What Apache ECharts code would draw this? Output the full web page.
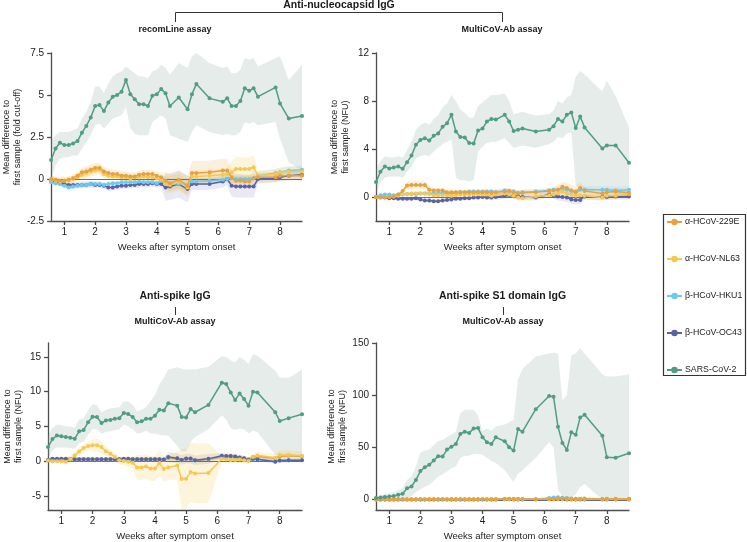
<!DOCTYPE html>
<html>
<head>
<meta charset="utf-8">
<script src="https://cdn.jsdelivr.net/npm/echarts@6.0.0/dist/echarts.min.js"></script>
<style>
html,body{margin:0;padding:0;background:#ffffff;}
#chart{width:747px;height:542px;}
</style>
</head>
<body>
<div id="chart"></div>
<script>
// ---------- shared x positions (days after symptom onset) ----------
const days = [4,5,6,7,8,9,10,11,12,13,14,15,16,17,18,19,20,21,22,23,24,25,26,27,28,29,30,31,33,34,35,36,37,40,43,44,45,46,47,48,49,50,51,55,56,58,61];
const weekTicks = [1,2,3,4,5,6,7,8];
const NAMES = ['α-HCoV-229E','α-HCoV-NL63','β-HCoV-HKU1','β-HCoV-OC43','SARS-CoV-2'];

// ---------- Panel A: anti-nucleocapsid, recomLine (fold cut-off) ----------
const tl_yticks = [-2.5,0,2.5,5,7.5];
const tl_sars    = [1.13,1.82,2.16,2.02,2.02,2.12,2.26,2.76,3.16,3.66,4.35,4.4,4.05,4.55,4.9,5.0,5.2,5.9,5.05,4.75,4.45,4.45,4.35,4.95,5.05,5.35,5.1,4.35,4.85,null,4.15,5.05,5.65,4.8,4.6,4.8,4.35,4.35,4.65,5.4,5.25,5.4,4.9,5.45,4.5,3.6,3.75];
const tl_sars_lo = [0.0,0.8,1.2,1.3,1.3,1.4,1.4,1.8,2.2,2.6,3.2,3.3,3.0,3.3,3.6,3.7,3.8,4.3,3.0,2.7,2.6,2.6,2.6,3.4,3.6,3.8,3.6,2.6,2.4,null,2.2,2.8,3.2,2.8,2.6,2.7,2.6,2.6,2.8,3.4,3.3,3.4,3.2,3.4,2.4,1.0,0.5];
const tl_sars_hi = [2.3,2.6,2.8,2.8,2.8,2.9,3.0,3.6,4.0,4.6,5.5,5.5,5.1,5.7,6.1,6.3,6.4,6.7,6.5,6.3,6.1,6.1,6.0,6.4,6.5,6.8,6.6,6.2,6.9,null,6.6,7.3,7.5,6.9,6.6,6.7,6.3,6.3,6.5,7.2,7.1,7.2,6.7,7.2,7.3,5.9,6.8];
const tl_229e = [0.0,-0.05,-0.1,-0.1,-0.05,0.05,0.2,0.4,0.45,0.55,0.65,0.65,0.45,0.35,0.3,0.3,0.2,0.2,0.15,0.15,0.25,0.3,0.3,0.3,0.2,0.1,-0.1,-0.25,-0.05,null,-0.4,0.35,0.35,0.4,0.5,0.5,0.1,-0.1,-0.1,-0.15,-0.15,0.05,0.1,0.1,0.2,0.2,0.2];
const tl_nl63 = [-0.05,-0.1,-0.15,-0.1,-0.05,0.0,0.1,0.25,0.35,0.45,0.5,0.55,0.3,0.2,0.15,0.15,0.1,0.1,0.05,0.1,0.1,0.15,0.1,0.1,0.05,-0.05,-0.3,-0.35,-0.2,null,-0.5,0.15,0.15,0.2,0.25,0.3,0.4,0.6,0.6,0.6,0.6,0.7,0.2,0.3,0.4,0.45,0.45];
const tl_hku1 = [-0.2,-0.25,-0.3,-0.4,-0.5,-0.45,-0.4,-0.35,-0.35,-0.3,-0.3,-0.3,-0.35,-0.3,-0.25,-0.25,-0.2,-0.2,-0.2,-0.2,-0.15,-0.2,-0.2,-0.2,-0.25,-0.1,-0.2,-0.3,-0.3,null,-0.35,-0.15,-0.15,-0.1,-0.05,0.0,0.05,0.0,0.0,0.0,0.0,0.05,0.2,0.35,0.4,0.5,0.55];
const tl_oc43 = [-0.1,-0.15,-0.2,-0.3,-0.35,-0.35,-0.35,-0.35,-0.35,-0.3,-0.35,-0.35,-0.4,-0.5,-0.5,-0.45,-0.4,-0.4,-0.35,-0.35,-0.3,-0.3,-0.3,-0.25,-0.3,-0.3,-0.5,-0.45,-0.3,null,-0.6,-0.3,-0.3,-0.3,-0.15,0.0,-0.4,-0.45,-0.45,-0.45,-0.45,-0.45,0.0,0.05,0.1,0.2,0.25];
const tl_229e_ci = [0.2,0.2,0.2,0.2,0.2,0.2,0.2,0.3,0.3,0.3,0.3,0.3,0.3,0.25,0.25,0.25,0.25,0.25,0.25,0.25,0.25,0.25,0.25,0.25,0.25,0.25,0.5,0.5,0.5,0.5,0.6,0.7,0.7,0.7,0.7,0.7,0.4,0.4,0.4,0.4,0.4,0.4,0.3,0.3,0.3,0.3,0.3];
const tl_nl63_ci = [0.2,0.2,0.2,0.2,0.2,0.2,0.2,0.3,0.3,0.3,0.3,0.3,0.3,0.2,0.2,0.2,0.2,0.2,0.2,0.2,0.2,0.2,0.2,0.2,0.2,0.2,0.5,0.5,0.5,0.5,0.5,0.35,0.35,0.35,0.35,0.35,0.7,0.7,0.7,0.7,0.7,0.7,0.3,0.3,0.3,0.3,0.3];
const tl_hku1_ci = [0.15,0.15,0.15,0.15,0.15,0.15,0.15,0.15,0.15,0.15,0.15,0.15,0.15,0.15,0.15,0.15,0.15,0.15,0.15,0.15,0.15,0.15,0.15,0.15,0.15,0.15,0.3,0.3,0.3,0.3,0.3,0.2,0.2,0.2,0.2,0.2,0.25,0.25,0.25,0.25,0.25,0.25,0.25,0.25,0.25,0.25,0.25];
const tl_oc43_ci = [0.2,0.2,0.2,0.2,0.2,0.2,0.2,0.2,0.2,0.2,0.2,0.2,0.2,0.2,0.2,0.2,0.2,0.2,0.2,0.2,0.2,0.2,0.2,0.2,0.2,0.2,0.8,0.8,0.8,0.8,0.8,0.35,0.35,0.35,0.35,0.35,0.65,0.65,0.65,0.65,0.65,0.65,0.25,0.25,0.25,0.25,0.25];

// ---------- Panel B: anti-nucleocapsid, MultiCoV-Ab (NFU) ----------
const tr_yticks = [0,4,8,12];
const tr_sars    = [1.24,2.1,2.55,2.37,2.45,2.55,2.35,2.9,3.45,4.35,4.75,4.9,4.7,5.1,5.3,5.85,6.15,6.85,5.45,5.0,4.95,4.5,4.45,5.55,5.7,6.3,6.5,6.45,6.85,6.3,5.5,5.6,5.7,5.45,5.6,5.9,6.5,6.3,6.85,7.05,5.75,6.7,5.8,4.05,4.3,4.3,2.85];
const tr_sars_lo = [0.2,1.2,1.6,1.7,1.7,1.7,1.6,2.1,2.5,3.2,3.4,3.5,3.4,3.8,4.1,4.4,4.6,4.8,1.6,1.4,1.4,1.3,1.4,3.8,4.2,4.5,4.6,4.6,4.9,4.5,4.1,4.2,4.3,4.1,4.4,4.6,5.0,4.9,5.3,5.4,1.0,0.6,0.5,0.4,0.4,0.3,0.1];
const tr_sars_hi = [2.3,3.0,3.4,3.3,3.3,3.4,3.3,3.9,4.6,5.6,6.0,6.2,6.0,6.5,6.8,7.5,7.8,8.5,8.0,7.3,7.0,6.6,6.6,7.6,7.9,8.2,8.5,8.5,8.6,8.0,6.9,7.0,7.1,6.8,6.9,7.2,8.0,7.8,8.3,8.5,10.0,10.5,10.2,8.8,9.7,8.4,5.8];
const tr_229e = [0.0,0.0,0.0,0.0,0.05,0.2,0.5,0.95,1.0,1.0,1.0,1.0,0.6,0.55,0.55,0.55,0.4,0.4,0.4,0.4,0.4,0.4,0.4,0.4,0.4,0.4,0.35,0.4,0.45,0.5,0.4,0.3,0.35,0.4,0.5,0.55,0.6,0.85,0.75,0.55,0.45,0.75,0.5,0.3,0.4,0.45,0.35];
const tr_nl63 = [0.0,0.0,0.0,0.0,0.05,0.1,0.2,0.25,0.3,0.3,0.3,0.3,0.25,0.15,0.15,0.15,0.15,0.1,0.15,0.2,0.2,0.2,0.2,0.25,0.2,0.2,0.1,0.2,0.3,0.2,0.1,-0.05,-0.1,0.05,0.15,0.2,0.3,0.45,0.3,0.2,0.1,0.15,0.1,-0.05,0.1,0.1,0.25];
const tr_hku1 = [0.0,0.15,0.2,0.2,0.15,0.2,0.2,0.25,0.25,0.25,0.3,0.3,0.3,0.3,0.3,0.35,0.3,0.3,0.35,0.4,0.4,0.45,0.45,0.45,0.45,0.45,0.45,0.4,0.55,0.5,0.45,0.35,0.4,0.45,0.55,0.6,0.6,0.65,0.6,0.5,0.35,0.6,0.6,0.6,0.6,0.55,0.6];
const tr_oc43 = [0.0,-0.05,-0.05,-0.1,-0.1,-0.15,-0.15,-0.15,-0.15,-0.1,-0.2,-0.3,-0.3,-0.35,-0.35,-0.3,-0.25,-0.2,-0.15,-0.15,-0.1,-0.1,-0.05,-0.05,0.0,-0.05,-0.05,0.0,0.1,0.15,0.1,0.05,0.0,-0.05,0.2,0.1,0.05,0.0,-0.05,-0.2,-0.25,-0.25,0.05,0.0,0.0,0.05,0.05];
const tr_229e_ci = [0.1,0.1,0.1,0.1,0.1,0.1,0.1,0.35,0.35,0.35,0.35,0.35,0.35,0.2,0.2,0.2,0.2,0.2,0.2,0.2,0.2,0.2,0.2,0.2,0.2,0.2,0.25,0.25,0.25,0.25,0.25,0.25,0.25,0.25,0.25,0.25,0.45,0.45,0.45,0.45,0.45,0.45,0.3,0.3,0.3,0.3,0.3];
const tr_nl63_ci = [0.1,0.1,0.1,0.1,0.1,0.1,0.1,0.15,0.15,0.15,0.15,0.15,0.15,0.15,0.15,0.15,0.15,0.15,0.15,0.15,0.15,0.15,0.15,0.15,0.15,0.15,0.2,0.2,0.2,0.2,0.2,0.2,0.2,0.2,0.2,0.2,0.3,0.3,0.3,0.3,0.3,0.3,0.3,0.3,0.3,0.3,0.3];
const tr_hku1_ci = [0.1,0.1,0.1,0.1,0.1,0.1,0.1,0.15,0.15,0.15,0.15,0.15,0.15,0.15,0.15,0.15,0.15,0.15,0.15,0.15,0.15,0.15,0.15,0.15,0.15,0.15,0.2,0.2,0.2,0.2,0.2,0.2,0.2,0.2,0.2,0.2,0.3,0.3,0.3,0.3,0.3,0.3,0.3,0.3,0.3,0.3,0.3];
const tr_oc43_ci = [0.1,0.1,0.1,0.1,0.1,0.1,0.1,0.15,0.15,0.15,0.15,0.15,0.15,0.15,0.15,0.15,0.15,0.15,0.15,0.15,0.15,0.15,0.15,0.15,0.15,0.15,0.25,0.25,0.25,0.25,0.25,0.25,0.25,0.25,0.25,0.25,0.35,0.35,0.35,0.35,0.35,0.35,0.25,0.25,0.25,0.25,0.25];

// ---------- Panel C: anti-spike IgG, MultiCoV-Ab (NFU) ----------
const bl_yticks = [-5,0,5,10,15];
const bl_sars    = [2.05,3.2,3.7,3.6,3.5,3.4,3.25,4.3,4.5,5.6,6.4,6.35,5.5,5.85,5.95,6.1,6.2,6.95,6.8,6.35,5.6,5.75,6.1,6.1,6.55,7.4,7.3,8.35,8.0,6.35,6.3,7.5,7.05,8.1,11.3,11.1,9.9,8.8,9.75,8.95,8.0,10.0,9.9,7.05,5.8,6.2,6.75];
const bl_sars_lo = [0.5,1.6,2.0,2.0,2.0,1.9,1.8,2.6,2.8,3.8,4.6,4.6,4.0,4.2,4.3,4.5,4.6,5.3,5.0,4.6,4.0,4.1,4.4,4.0,4.0,3.8,3.7,3.7,2.2,1.4,1.4,2.8,3.5,4.6,6.6,6.0,4.8,4.5,4.7,4.6,4.0,4.4,4.2,0.9,0.8,0.9,0.9];
const bl_sars_hi = [3.6,4.8,5.3,5.2,5.0,5.0,4.8,6.0,6.2,7.3,8.2,8.1,7.0,7.4,7.6,7.7,7.8,8.6,8.6,8.1,7.2,7.4,7.8,8.6,9.5,11.0,12.0,13.2,13.5,13.3,13.2,13.2,13.2,13.6,15.1,15.0,14.5,14.2,15.0,14.6,14.0,15.4,15.2,13.0,12.0,12.0,13.2];
const bl_229e = [0.2,0.3,0.3,0.3,0.3,0.3,0.3,0.3,0.3,0.3,0.3,0.3,0.3,0.3,0.3,0.3,0.3,0.3,0.3,0.3,0.3,0.3,0.3,0.3,0.3,0.3,0.25,0.5,0.4,0.2,0.35,0.35,0.15,0.3,0.7,0.7,0.7,0.65,0.5,0.4,0.3,0.6,0.7,0.4,0.7,0.8,0.7];
const bl_nl63 = [0.1,0.0,0.0,0.0,-0.05,0.3,0.85,1.4,1.9,2.2,2.3,2.3,2.05,1.45,1.1,0.6,0.15,0.05,-0.05,-0.2,-0.9,-0.9,-0.75,-1.05,-1.05,-0.25,-1.1,-0.9,-0.6,-2.55,-2.5,-1.55,-1.75,-1.7,0.35,0.25,0.2,0.2,0.25,0.15,0.05,0.6,0.85,0.5,0.9,0.95,0.8];
const bl_hku1 = [0.15,0.25,0.25,0.25,0.25,0.25,0.25,0.25,0.25,0.25,0.25,0.25,0.25,0.25,0.25,0.25,0.25,0.25,0.25,0.25,0.25,0.25,0.25,0.25,0.25,0.25,0.2,0.45,0.35,0.15,0.3,0.3,0.1,0.3,0.6,0.6,0.6,0.55,0.45,0.35,0.2,0.3,0.3,0.0,0.1,0.15,0.15];
const bl_oc43 = [0.2,0.35,0.35,0.35,0.35,0.3,0.3,0.3,0.3,0.3,0.3,0.3,0.3,0.3,0.3,0.3,0.3,0.35,0.35,0.3,0.3,0.3,0.3,0.3,0.3,0.3,0.25,0.6,0.45,0.2,0.4,0.4,0.15,0.35,0.8,0.75,0.75,0.7,0.55,0.45,0.2,0.35,0.3,-0.05,0.1,0.15,0.15];
const bl_229e_ci = 0.25;
const bl_nl63_ci = [0.2,0.2,0.2,0.2,0.2,0.6,0.6,0.6,0.6,0.6,0.9,0.9,0.9,0.6,0.6,0.6,0.6,0.6,0.8,0.8,1.8,1.8,1.8,1.8,1.8,1.8,1.8,1.8,2.0,4.3,4.3,4.3,4.3,4.3,0.5,0.5,0.5,0.5,0.5,0.5,0.5,0.5,0.5,0.6,0.6,0.6,0.6];
const bl_hku1_ci = 0.2;
const bl_oc43_ci = [0.25,0.25,0.25,0.25,0.25,0.25,0.25,0.25,0.25,0.25,0.25,0.25,0.25,0.25,0.25,0.25,0.25,0.25,0.25,0.25,0.25,0.25,0.25,0.25,0.25,0.25,0.25,0.7,0.7,0.7,0.7,0.7,0.7,0.7,0.4,0.4,0.4,0.4,0.4,0.4,0.3,0.3,0.3,0.3,0.3,0.3,0.3];

// ---------- Panel D: anti-spike S1 domain IgG, MultiCoV-Ab (NFU) ----------
const br_yticks = [0,50,100,150];
const br_sars    = [1.6,1.9,2.5,3.0,3.3,4.5,5.5,10.8,12.5,18.8,27.3,31,33.3,37.4,41.6,41.2,47.9,50.7,53.3,62.8,65,63.7,68.2,68.5,59.6,54.9,53.3,59.6,55.9,50.1,46.9,67.6,65,86.6,99.2,98.6,69.7,54.2,47.6,64.4,62.1,78.7,81.2,61.2,40.6,40,44.4];
const br_sars_lo = [0,0,0,0,0,0,0,2,3,7,10,12,14,18,22,24,27,30,32,40,42,42,44,44,43,40,37,35,28,22,17,25,28,40,55,50,10,3,0,2,5,12,15,0,0,0,0];
const br_sars_hi = [3,4,5,6,7,9,11,19,22,32,45,47,48,52,56,57,60,62,65,83,86,86,86,80,66,68,66,70,72,74,76,115,125,137,140,141,140,95,100,138,140,145,140,120,118,118,120];
const br_229e = [0,0.1,0.1,0.1,0.1,0.2,0.2,0.2,0.2,0.2,0.3,0.3,0.3,0.3,0.3,0.3,0.3,0.3,0.3,0.3,0.3,0.3,0.3,0.3,0.3,0.3,0.3,0.4,0.8,0.8,0.7,0.7,0.6,0.3,0.6,0.8,0.9,0.9,0.8,0.7,0.7,0.8,0.9,0.6,0.7,0.8,0.7];
const br_nl63 = [0,0.05,0.05,0.1,0.1,0.1,0.1,0.1,0.1,0.1,0.2,0.2,0.2,0.2,0.2,0.2,0.2,0.2,0.2,0.2,0.2,0.2,0.2,0.2,0.2,0.2,0.2,0.3,0.5,0.5,0.4,0.4,0.3,0.2,0.4,0.5,0.6,0.6,0.5,0.4,0.4,0.5,0.6,0.4,0.5,0.5,0.4];
const br_hku1 = [0,0.1,0.1,0.1,0.1,0.1,0.1,0.1,0.1,0.1,0.1,0.1,0.1,0.1,0.1,0.1,0.1,0.1,0.1,0.1,0.1,0.1,0.1,0.1,0.1,0.1,0.1,0.2,0.3,0.3,0.2,0.2,0.2,0.4,1.5,2.0,2.2,1.8,1.4,1.0,0.8,0.7,0.6,0.5,0.5,0.4,0.4];
const br_oc43 = [0,0,0,0.05,0.05,0.05,0.05,0.05,0.05,0.05,0.05,0.05,0.05,0.05,0.05,0.05,0.05,0.05,0.05,0.05,0.05,0.05,0.05,0.05,0.05,0.05,0.05,0.1,0.2,0.2,0.1,0.1,0.1,0.1,0.2,0.2,0.2,0.2,0.1,0.1,0.1,0.1,0.1,0.1,0.1,0.1,0.1];
const br_229e_ci = 0.6;
const br_nl63_ci = 0.5;
const br_hku1_ci = [0.5,0.5,0.5,0.5,0.5,0.5,0.5,0.5,0.5,0.5,0.5,0.5,0.5,0.5,0.5,0.5,0.5,0.5,0.5,0.5,0.5,0.5,0.5,0.5,0.5,0.5,0.5,0.5,0.5,0.5,0.5,0.5,0.5,0.5,1.5,1.5,1.5,1.5,1.5,1.5,1.5,0.6,0.6,0.6,0.6,0.6,0.6];
const br_oc43_ci = 0.4;

// ---------- styling ----------
const FONT = '"Liberation Sans", Arial, Helvetica, sans-serif';
const COLORS = {'α-HCoV-229E':'#e5a23e','α-HCoV-NL63':'#f6c851','β-HCoV-HKU1':'#6cc9ef','β-HCoV-OC43':'#5a62a6','SARS-CoV-2':'#4f9d84'};
const BANDS = {'α-HCoV-229E':'rgba(229,162,62,0.17)','α-HCoV-NL63':'rgba(246,200,81,0.2)','β-HCoV-HKU1':'rgba(108,201,239,0.15)','β-HCoV-OC43':'rgba(90,98,166,0.14)','SARS-CoV-2':'rgba(135,170,155,0.22)'};
const XMIN = 4/7, XMAX = 61/7;
const AXC = '#4d4d4d';

const panels = [
  {grid:{left:49,top:53,width:253,height:168}, ymin:-2.5, ymax:7.5, yticks:tl_yticks, nameGap:25,
   yName:'Mean difference to\nfirst sample (fold cut-off)',
   order:['β-HCoV-OC43','β-HCoV-HKU1','α-HCoV-NL63','α-HCoV-229E','SARS-CoV-2'],
   mean:{'α-HCoV-229E':tl_229e,'α-HCoV-NL63':tl_nl63,'β-HCoV-HKU1':tl_hku1,'β-HCoV-OC43':tl_oc43,'SARS-CoV-2':tl_sars},
   ci:{'α-HCoV-229E':tl_229e_ci,'α-HCoV-NL63':tl_nl63_ci,'β-HCoV-HKU1':tl_hku1_ci,'β-HCoV-OC43':tl_oc43_ci},
   lo:tl_sars_lo, hi:tl_sars_hi},
  {grid:{left:376,top:53,width:253,height:168}, ymin:-2, ymax:12, yticks:tr_yticks, nameGap:25,
   yName:'Mean difference to\nfirst sample (NFU)',
   order:['β-HCoV-OC43','β-HCoV-HKU1','α-HCoV-NL63','α-HCoV-229E','SARS-CoV-2'],
   mean:{'α-HCoV-229E':tr_229e,'α-HCoV-NL63':tr_nl63,'β-HCoV-HKU1':tr_hku1,'β-HCoV-OC43':tr_oc43,'SARS-CoV-2':tr_sars},
   ci:{'α-HCoV-229E':tr_229e_ci,'α-HCoV-NL63':tr_nl63_ci,'β-HCoV-HKU1':tr_hku1_ci,'β-HCoV-OC43':tr_oc43_ci},
   lo:tr_sars_lo, hi:tr_sars_hi},
  {grid:{left:48,top:343,width:254,height:169}, ymin:-7, ymax:17, yticks:bl_yticks, nameGap:24,
   yName:'Mean difference to\nfirst sample (NFU)',
   order:['β-HCoV-HKU1','α-HCoV-229E','β-HCoV-OC43','α-HCoV-NL63','SARS-CoV-2'],
   mean:{'α-HCoV-229E':bl_229e,'α-HCoV-NL63':bl_nl63,'β-HCoV-HKU1':bl_hku1,'β-HCoV-OC43':bl_oc43,'SARS-CoV-2':bl_sars},
   ci:{'α-HCoV-229E':bl_229e_ci,'α-HCoV-NL63':bl_nl63_ci,'β-HCoV-HKU1':bl_hku1_ci,'β-HCoV-OC43':bl_oc43_ci},
   lo:bl_sars_lo, hi:bl_sars_hi},
  {grid:{left:376,top:343,width:253,height:169}, ymin:-10, ymax:150, yticks:br_yticks, nameGap:27,
   yName:'Mean difference to\nfirst sample (NFU)',
   order:['β-HCoV-OC43','β-HCoV-HKU1','α-HCoV-NL63','α-HCoV-229E','SARS-CoV-2'],
   mean:{'α-HCoV-229E':br_229e,'α-HCoV-NL63':br_nl63,'β-HCoV-HKU1':br_hku1,'β-HCoV-OC43':br_oc43,'SARS-CoV-2':br_sars},
   ci:{'α-HCoV-229E':br_229e_ci,'α-HCoV-NL63':br_nl63_ci,'β-HCoV-HKU1':br_hku1_ci,'β-HCoV-OC43':br_oc43_ci},
   lo:br_sars_lo, hi:br_sars_hi}
];

function pairs(vals){
  const out = [];
  days.forEach((d,k)=>{ if (vals[k] != null) out.push([d/7, vals[k]]); });
  return out;
}
function bandSeries(i, lo, hi, fill){
  const up = [], dn = [];
  days.forEach((d,k)=>{ if (lo[k] != null && hi[k] != null){ up.push([d/7, hi[k]]); dn.push([d/7, lo[k]]); } });
  const poly = up.concat(dn.slice().reverse());
  return {type:'custom', coordinateSystem:'cartesian2d', xAxisIndex:i, yAxisIndex:i, silent:true, animation:false, clip:true, z:1,
    data:[up[0]], encode:{x:0,y:1},
    renderItem:(params, api)=>({type:'polygon', shape:{points: poly.map(pt=>api.coord(pt))}, style:{fill:fill}})};
}
function zeroSeries(i){
  return {type:'custom', coordinateSystem:'cartesian2d', xAxisIndex:i, yAxisIndex:i, silent:true, animation:false, z:1,
    data:[[XMIN,0]], encode:{x:0,y:1},
    renderItem:(params, api)=>{ const a = api.coord([XMIN,0]), b = api.coord([XMAX,0]);
      return {type:'line', shape:{x1:a[0], y1:Math.round(a[1])+0.5, x2:b[0], y2:Math.round(b[1])+0.5}, style:{stroke:'#6e6e6e', lineWidth:1}}; }};
}

const grids = [], xAxes = [], yAxes = [], series = [];
panels.forEach((p,i)=>{
  grids.push(p.grid);
  xAxes.push({type:'value', gridIndex:i, min:XMIN, max:XMAX,
    axisLine:{show:true, onZero:false, lineStyle:{color:AXC, width:1.3}},
    axisTick:{show:true, customValues:weekTicks, length:4, lineStyle:{color:AXC, width:1.3}},
    axisLabel:{show:true, customValues:weekTicks, color:'#222', fontSize:10, fontFamily:FONT, margin:6},
    splitLine:{show:false},
    name:'Weeks after symptom onset', nameLocation:'middle', nameGap:21,
    nameTextStyle:{color:'#222', fontSize:9.5, fontFamily:FONT}});
  yAxes.push({type:'value', gridIndex:i, min:p.ymin, max:p.ymax,
    axisLine:{show:true, onZero:false, lineStyle:{color:AXC, width:1.3}},
    axisTick:{show:true, customValues:p.yticks, length:4, lineStyle:{color:AXC, width:1.3}},
    axisLabel:{show:true, customValues:p.yticks, color:'#222', fontSize:10, fontFamily:FONT, margin:7},
    splitLine:{show:false},
    name:p.yName, nameLocation:'middle', nameGap:p.nameGap,
    nameTextStyle:{color:'#222', fontSize:9, fontFamily:FONT, lineHeight:11}});
  series.push(bandSeries(i, p.lo, p.hi, BANDS['SARS-CoV-2']));
  p.order.forEach(n=>{
    if (n === 'SARS-CoV-2') return;
    const m = p.mean[n], c = p.ci[n];
    const lo = m.map((v,k)=> v == null ? null : v - (Array.isArray(c) ? c[k] : c));
    const hi = m.map((v,k)=> v == null ? null : v + (Array.isArray(c) ? c[k] : c));
    series.push(bandSeries(i, lo, hi, BANDS[n]));
  });
  series.push(zeroSeries(i));
  p.order.forEach(n=>{
    series.push({type:'line', name:n, xAxisIndex:i, yAxisIndex:i, data:pairs(p.mean[n]),
      symbol:'circle', symbolSize:4, showSymbol:true, connectNulls:true,
      lineStyle:{width:1.5, color:COLORS[n]}, itemStyle:{color:COLORS[n]},
      emphasis:{disabled:true}, z:3, animation:false});
  });
});

const txt = (x,y,text,font)=>({type:'text', x:x, y:y, silent:true,
  style:{text:text, font:font, fill:'#1a1a1a', align:'center', verticalAlign:'middle', textAlign:'center', textVerticalAlign:'middle'}});
const BIG = 'bold 10.5px ' + FONT, SMALL = 'bold 9px ' + FONT;
const graphics = [
  txt(339, 5.5, 'Anti-nucleocapsid IgG', BIG),
  {type:'polyline', silent:true, shape:{points:[[175.5,22],[175.5,12.5],[502.5,12.5],[502.5,22]]}, style:{stroke:'#333', lineWidth:1, fill:null}},
  txt(175, 30, 'recomLine assay', SMALL),
  txt(502, 30, 'MultiCoV-Ab assay', SMALL),
  txt(175, 296, 'Anti-spike IgG', BIG),
  {type:'line', silent:true, shape:{x1:175.5, y1:307, x2:175.5, y2:315}, style:{stroke:'#333', lineWidth:1}},
  txt(175, 322, 'MultiCoV-Ab assay', SMALL),
  txt(502.5, 296, 'Anti-spike S1 domain IgG', BIG),
  {type:'line', silent:true, shape:{x1:503.5, y1:307, x2:503.5, y2:315}, style:{stroke:'#333', lineWidth:1}},
  txt(503, 322, 'MultiCoV-Ab assay', SMALL),
  {type:'rect', silent:true, shape:{x:663.5, y:214.5, width:82, height:161}, style:{fill:'transparent', stroke:'#333', lineWidth:1.2}}
];

const chart = echarts.init(document.getElementById('chart'), null, {renderer:'canvas'});
chart.setOption({
  animation:false,
  backgroundColor:'#ffffff',
  textStyle:{fontFamily:FONT},
  grid:grids, xAxis:xAxes, yAxis:yAxes, series:series,
  legend:{data:NAMES, orient:'vertical', left:666, top:217, padding:0, itemWidth:15, itemHeight:8, itemGap:27,
    selectedMode:false, textStyle:{fontSize:8.8, color:'#222', fontFamily:FONT, lineHeight:10, padding:[0,0,0,-2]}},
  graphic:graphics
});
</script>
</body>
</html>
